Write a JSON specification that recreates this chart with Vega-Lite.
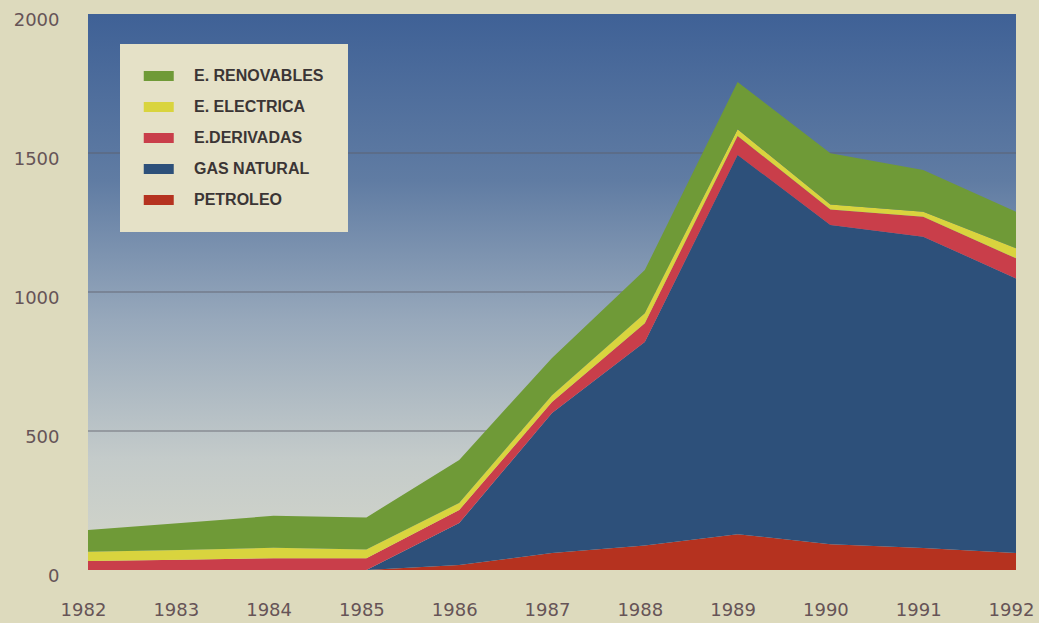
{
  "$schema": "https://vega.github.io/schema/vega-lite/v6.json",
  "width": 928,
  "height": 556,
  "autosize": {"type": "none"},
  "padding": {"left": 88, "top": 14, "right": 23, "bottom": 53},
  "background": "#dddabd",
  "config": {
    "view": {"stroke": null},
    "axis": {"labelFont": "DejaVu Sans", "labelFontSize": 18, "labelColor": "#665457"}
  },
  "datasets": {
    "energia": [
      {"anio": 1982, "fuente": "PETROLEO", "orden": 1, "valor": 0},
      {"anio": 1983, "fuente": "PETROLEO", "orden": 1, "valor": 0},
      {"anio": 1984, "fuente": "PETROLEO", "orden": 1, "valor": 0},
      {"anio": 1985, "fuente": "PETROLEO", "orden": 1, "valor": 0},
      {"anio": 1986, "fuente": "PETROLEO", "orden": 1, "valor": 18},
      {"anio": 1987, "fuente": "PETROLEO", "orden": 1, "valor": 61},
      {"anio": 1988, "fuente": "PETROLEO", "orden": 1, "valor": 88},
      {"anio": 1989, "fuente": "PETROLEO", "orden": 1, "valor": 129},
      {"anio": 1990, "fuente": "PETROLEO", "orden": 1, "valor": 93},
      {"anio": 1991, "fuente": "PETROLEO", "orden": 1, "valor": 79},
      {"anio": 1992, "fuente": "PETROLEO", "orden": 1, "valor": 61},
      {"anio": 1982, "fuente": "GAS NATURAL", "orden": 2, "valor": 0},
      {"anio": 1983, "fuente": "GAS NATURAL", "orden": 2, "valor": 0},
      {"anio": 1984, "fuente": "GAS NATURAL", "orden": 2, "valor": 0},
      {"anio": 1985, "fuente": "GAS NATURAL", "orden": 2, "valor": 0},
      {"anio": 1986, "fuente": "GAS NATURAL", "orden": 2, "valor": 151},
      {"anio": 1987, "fuente": "GAS NATURAL", "orden": 2, "valor": 504},
      {"anio": 1988, "fuente": "GAS NATURAL", "orden": 2, "valor": 732},
      {"anio": 1989, "fuente": "GAS NATURAL", "orden": 2, "valor": 1364},
      {"anio": 1990, "fuente": "GAS NATURAL", "orden": 2, "valor": 1148},
      {"anio": 1991, "fuente": "GAS NATURAL", "orden": 2, "valor": 1120},
      {"anio": 1992, "fuente": "GAS NATURAL", "orden": 2, "valor": 988},
      {"anio": 1982, "fuente": "E.DERIVADAS", "orden": 3, "valor": 32},
      {"anio": 1983, "fuente": "E.DERIVADAS", "orden": 3, "valor": 37},
      {"anio": 1984, "fuente": "E.DERIVADAS", "orden": 3, "valor": 42},
      {"anio": 1985, "fuente": "E.DERIVADAS", "orden": 3, "valor": 42},
      {"anio": 1986, "fuente": "E.DERIVADAS", "orden": 3, "valor": 47},
      {"anio": 1987, "fuente": "E.DERIVADAS", "orden": 3, "valor": 39},
      {"anio": 1988, "fuente": "E.DERIVADAS", "orden": 3, "valor": 68},
      {"anio": 1989, "fuente": "E.DERIVADAS", "orden": 3, "valor": 68},
      {"anio": 1990, "fuente": "E.DERIVADAS", "orden": 3, "valor": 56},
      {"anio": 1991, "fuente": "E.DERIVADAS", "orden": 3, "valor": 72},
      {"anio": 1992, "fuente": "E.DERIVADAS", "orden": 3, "valor": 72},
      {"anio": 1982, "fuente": "E. ELECTRICA", "orden": 4, "valor": 34},
      {"anio": 1983, "fuente": "E. ELECTRICA", "orden": 4, "valor": 35},
      {"anio": 1984, "fuente": "E. ELECTRICA", "orden": 4, "valor": 38},
      {"anio": 1985, "fuente": "E. ELECTRICA", "orden": 4, "valor": 32},
      {"anio": 1986, "fuente": "E. ELECTRICA", "orden": 4, "valor": 25},
      {"anio": 1987, "fuente": "E. ELECTRICA", "orden": 4, "valor": 25},
      {"anio": 1988, "fuente": "E. ELECTRICA", "orden": 4, "valor": 36},
      {"anio": 1989, "fuente": "E. ELECTRICA", "orden": 4, "valor": 24},
      {"anio": 1990, "fuente": "E. ELECTRICA", "orden": 4, "valor": 18},
      {"anio": 1991, "fuente": "E. ELECTRICA", "orden": 4, "valor": 18},
      {"anio": 1992, "fuente": "E. ELECTRICA", "orden": 4, "valor": 36},
      {"anio": 1982, "fuente": "E. RENOVABLES", "orden": 5, "valor": 78},
      {"anio": 1983, "fuente": "E. RENOVABLES", "orden": 5, "valor": 97},
      {"anio": 1984, "fuente": "E. RENOVABLES", "orden": 5, "valor": 115},
      {"anio": 1985, "fuente": "E. RENOVABLES", "orden": 5, "valor": 115},
      {"anio": 1986, "fuente": "E. RENOVABLES", "orden": 5, "valor": 155},
      {"anio": 1987, "fuente": "E. RENOVABLES", "orden": 5, "valor": 134},
      {"anio": 1988, "fuente": "E. RENOVABLES", "orden": 5, "valor": 155},
      {"anio": 1989, "fuente": "E. RENOVABLES", "orden": 5, "valor": 170},
      {"anio": 1990, "fuente": "E. RENOVABLES", "orden": 5, "valor": 184},
      {"anio": 1991, "fuente": "E. RENOVABLES", "orden": 5, "valor": 150},
      {"anio": 1992, "fuente": "E. RENOVABLES", "orden": 5, "valor": 132}
    ],
    "rejilla": [{"v": 500}, {"v": 1000}, {"v": 1500}]
  },
  "layer": [
    {
      "data": {"values": [{"desde": 0, "hasta": 2000}]},
      "mark": {
        "type": "rect",
        "fill": {
          "gradient": "linear", "x1": 0, "y1": 0, "x2": 0, "y2": 1,
          "stops": [
            {"offset": 0, "color": "#3f6196"},
            {"offset": 0.3, "color": "#607ca3"},
            {"offset": 0.55, "color": "#97a8bb"},
            {"offset": 0.8, "color": "#c4cbca"},
            {"offset": 1, "color": "#d4d6c9"}
          ]
        }
      },
      "encoding": {
        "y": {"field": "desde", "type": "quantitative", "scale": {"domain": [0, 2000], "nice": false}},
        "y2": {"field": "hasta"}
      }
    },
    {
      "data": {"name": "rejilla"},
      "mark": {"type": "rule", "color": "#5d5e66", "strokeWidth": 1.2, "opacity": 0.8},
      "encoding": {
        "y": {"field": "v", "type": "quantitative"}
      }
    },
    {
      "data": {"name": "energia"},
      "mark": {"type": "area", "interpolate": "linear"},
      "encoding": {
        "x": {
          "field": "anio", "type": "quantitative",
          "scale": {"domain": [1982, 1992], "nice": false, "zero": false},
          "axis": {
            "title": null, "values": [1982, 1983, 1984, 1985, 1986, 1987, 1988, 1989, 1990, 1991, 1992],
            "format": "d", "domain": false, "ticks": false, "grid": false,
            "labelPadding": 31, "labelFlush": false, "labelOffset": -5, "labelOverlap": false
          }
        },
        "y": {
          "field": "valor", "type": "quantitative", "stack": "zero",
          "axis": {
            "title": null, "values": [0, 500, 1000, 1500, 2000], "format": "d",
            "domain": false, "ticks": false, "grid": false,
            "labelAlign": "right", "labelBaseline": "middle", "labelPadding": 29, "labelOffset": 6
          }
        },
        "order": {"field": "orden", "type": "quantitative", "sort": "ascending"},
        "color": {
          "field": "fuente", "type": "nominal",
          "scale": {
            "domain": ["E. RENOVABLES", "E. ELECTRICA", "E.DERIVADAS", "GAS NATURAL", "PETROLEO"],
            "range": ["#6f9a37", "#d9d43e", "#c93e4a", "#2d507a", "#b5321f"]
          },
          "legend": {
            "title": null, "orient": "none", "legendX": 32, "legendY": 30,
            "fillColor": "#e5e1c7", "padding": 24, "rowPadding": 15,
            "symbolType": "M-1.1,-0.67H2.9V0.67H-1.1Z", "symbolSize": 225, "symbolStrokeWidth": 0,
            "symbolOpacity": 1, "labelOffset": 34,
            "labelFont": "Liberation Sans", "labelFontWeight": "bold", "labelFontSize": 16,
            "labelColor": "#3b3535", "labelLimit": 300
          }
        }
      }
    }
  ]
}
